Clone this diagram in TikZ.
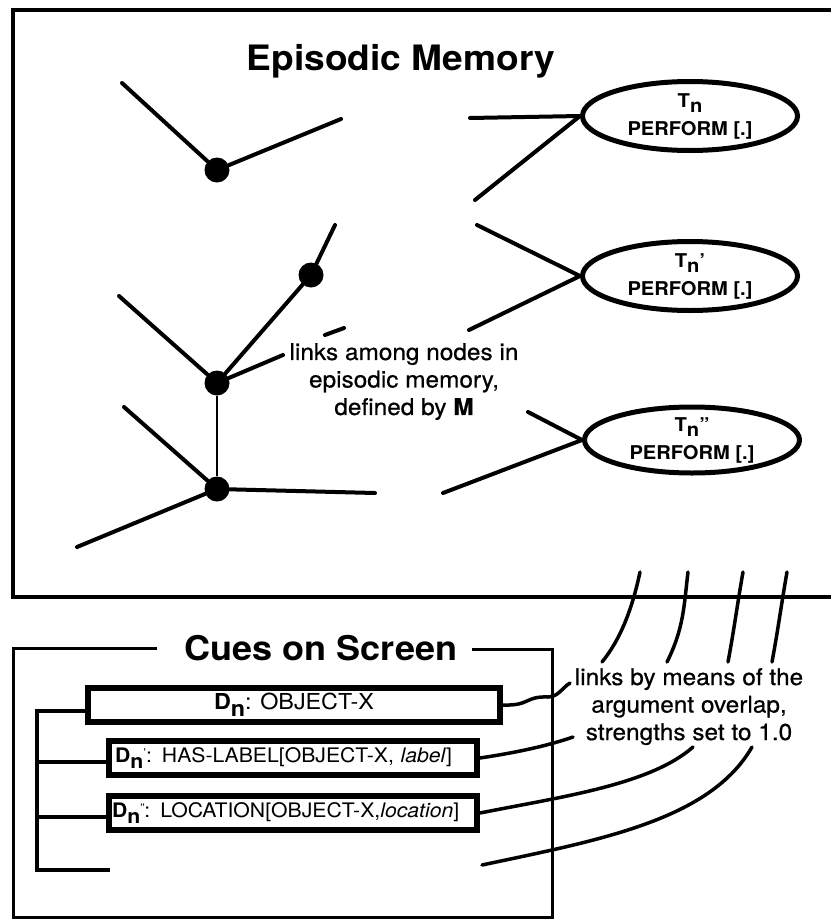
\documentclass[tikz,border=0pt]{standalone}
\usepackage{fontspec}
\setmainfont[FakeStretch=1.06]{TeX Gyre Heros}
\newfontfamily\labfont[FakeStretch=1.06,FakeBold=0.6]{TeX Gyre Heros}
\usetikzlibrary{shapes.geometric}
\newcommand\fsz[2]{\fontsize{#1}{#2}\selectfont}
\newcommand\lsub[1]{\raisebox{-0.3em}{#1}}
\begin{document}
\begin{tikzpicture}[x=1pt,y=-1pt,
  every node/.style={inner sep=0},
  ln/.style={line width=4, line cap=round},
  thinln/.style={line width=2.5},
  dot/.style={circle, fill=black, minimum size=25, inner sep=0},
  tnode/.style={ellipse, draw, line width=5, minimum width=215, minimum height=69, inner sep=0, align=center, font=\bfseries\fsz{19}{22}},
  dbox/.style={draw, line width=6, minimum height=34, inner ysep=0},
  frame/.style={line width=3.5},
  frametwo/.style={line width=3},
  brk/.style={line width=3.5},
  lnk/.style={line width=3.5, line cap=round},
  lab/.style={font=\labfont\fsz{23}{27.5}, align=center}]
\useasboundingbox (0,0) rectangle (831,921);

% top frame
\draw[frame] (831,10) -- (13,10) -- (13,597) -- (831,597);
\node[font=\bfseries\fsz{35}{40}, anchor=base] (ttl) at (401,70) {Episodic Memory};

% episodic nodes
\node[dot] (n1) at (217,170) {};
\node[dot] (n2) at (311,275) {};
\node[dot] (n3) at (217,383) {};
\node[dot] (n4) at (217,489) {};

\coordinate (a1) at (122,83);
\coordinate (a2) at (341,119);
\coordinate (a3) at (335,225);
\coordinate (a4) at (119,296);
\coordinate (a5) at (283,355);
\coordinate (a6) at (124,407);
\coordinate (a7) at (375,493);
\coordinate (a8) at (77,547);
\coordinate (dd1) at (325,335);
\coordinate (dd2) at (344,328);

\draw[ln] (a1) -- (n1);
\draw[ln] (n1) -- (a2);
\draw[ln] (a3) -- (n2);
\draw[ln] (n2) -- (n3);
\draw[ln] (a4) -- (n3);
\draw[ln] (n3) -- (a5);
\draw[ln] (dd1) -- (dd2);
\draw[thinln] (n3) -- (n4);
\draw[ln] (a6) -- (n4);
\draw[ln] (n4) -- (a7);
\draw[ln] (n4) -- (a8);

\node[lab, anchor=north] (m1) at (404,343) {links among nodes in\\episodic memory,\\defined by \textbf{M}};

% T nodes
\node[tnode] (t1) at (690,116) {T\lsub{n}\\[6pt]PERFORM [.]};
\node[tnode] (t2) at (690,276) {T\lsub{n}'\\[6pt]PERFORM [.]};
\node[tnode, minimum height=66] (t3) at (692,440) {T\lsub{n}''\\[6pt]PERFORM [.]};

\coordinate (b1) at (470,118);
\coordinate (b2) at (475,200);
\coordinate (b3) at (477,225);
\coordinate (b4) at (469,330);
\coordinate (b5) at (528,412);
\coordinate (b6) at (443,493);
\draw[ln] (b1) -- (t1.west);
\draw[ln] (b2) -- (t1.west);
\draw[ln] (b3) -- (t2.west);
\draw[ln] (b4) -- (t2.west);
\draw[ln] (b5) -- (t3.west);
\draw[ln] (b6) -- (t3.west);

% cues box
\node[font=\bfseries\fsz{34}{40}, anchor=base] (ct) at (321,660) {Cues on Screen};
\draw[frametwo] (157,648) -- (13,648) -- (13,917) -- (552,917) -- (552,649) -- (472,649);

\node[dbox, minimum width=412, font=\fsz{22}{26}] (d1) at (294,705) {\textbf{D\lsub{n}}: OBJECT-X};
\node[dbox, text width=356, inner xsep=6, align=left, font=\fsz{20}{24}] (d2) at (293,758)
  {\textbf{D\lsub{n}}\raisebox{0.25em}{\fsz{12}{12}'}: HAS-LABEL[OBJECT-X, \textit{label}]};
\node[dbox, text width=362, inner xsep=3, align=left, font=\fsz{20}{24}] (d3) at (293,813)
  {\textbf{D\lsub{n}}\raisebox{0.25em}{\fsz{12}{12}''}: LOCATION[OBJECT-X,\textit{location}]};

\coordinate (k0) at (37,711);
\coordinate (k1) at (37,870);
\coordinate (k2) at (110,870);
\coordinate (k3) at (37,762);
\coordinate (k4) at (37,817);
\draw[brk] (d1.west |- k0) -- (k0) -- (k1) -- (k2);
\draw[brk] (k3) -- (d2.west |- k3);
\draw[brk] (k4) -- (d3.west |- k4);

\node[lab, anchor=north] (m2) at (689,668) {links by means of the\\argument overlap,\\strengths set to 1.0};

% strokes from the top box
\coordinate (s1a) at (640,572); \coordinate (s1b) at (602,662);
\coordinate (s2a) at (688,572); \coordinate (s2b) at (667,662);
\coordinate (s3a) at (743,572); \coordinate (s3b) at (728,662);
\coordinate (s4a) at (787,572); \coordinate (s4b) at (772,662);
\draw[lnk] (s1a) .. controls (632,610) and (620,640) .. (s1b);
\draw[lnk] (s2a) .. controls (684,605) and (684,628) .. (s2b);
\draw[lnk] (s3a) .. controls (738,600) and (734,630) .. (s3b);
\draw[lnk] (s4a) .. controls (782,600) and (778,630) .. (s4b);

% links to the cue boxes
\coordinate (e1) at (570,683);
\coordinate (e2) at (573,737);
\coordinate (e3) at (693,747);
\coordinate (e4) at (752,747);
\coordinate (f4) at (482,865);
\draw[lnk] (d1.east) .. controls (530,706) and (525,696) .. (548,697) .. controls (558,697) and (562,688) .. (e1);
\draw[lnk] (d2.east) .. controls (520,752) and (550,745) .. (e2);
\draw[lnk] (d3.east) .. controls (560,797) and (650,785) .. (e3);
\draw[lnk] (f4) .. controls (600,840) and (710,820) .. (e4);
\end{tikzpicture}
\end{document}
